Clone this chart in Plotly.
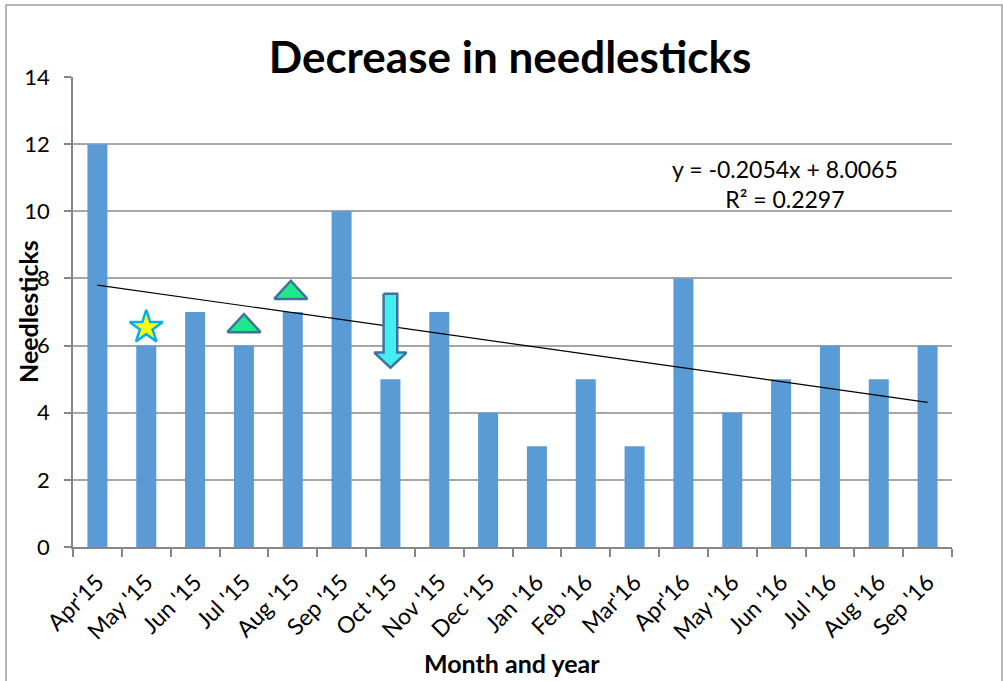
import numpy as np
import plotly.graph_objects as go

months = ["Apr'15", "May '15", "Jun '15", "Jul '15", "Aug '15", "Sep '15", "Oct '15",
          "Nov '15", "Dec '15", "Jan '16", "Feb '16", "Mar'16", "Apr'16", "May '16",
          "Jun '16", "Jul '16", "Aug '16", "Sep '16"]
needlesticks = [12, 6, 7, 6, 7, 10, 5, 7, 4, 3, 5, 3, 8, 4, 5, 6, 5, 6]

# decorative markers (category index 1-based, value level)
star_pos = (2, 6.54)
triangles = [(4, 6.40), (4.96, 7.39)]   # (center x, base y)
arrow_x = 7
arrow_top, arrow_head, arrow_tip = 7.54, 5.79, 5.34

x = np.arange(1, len(months) + 1)
y = np.array(needlesticks, dtype=float)
slope, intercept = np.polyfit(x, y, 1)
pred = slope * x + intercept
r2 = 1 - np.sum((y - pred) ** 2) / np.sum((y - y.mean()) ** 2)

FONT = "Lato"
fig = go.Figure()
fig.add_trace(go.Bar(x=x, y=needlesticks, marker_color="#5b9bd5", width=0.41,
                     marker_line_width=0))
fig.add_trace(go.Scatter(x=[x[0], x[-1]], y=[pred[0], pred[-1]], mode="lines",
                         line=dict(color="black", width=1.2)))

# star
fig.add_trace(go.Scatter(x=[star_pos[0]], y=[star_pos[1]], mode="markers",
                         marker=dict(symbol="star", size=25, color="#ffff00",
                                     line=dict(color="#00b0f0", width=2.5))))
# triangles
for cx, by in triangles:
    hw, h = 0.34, 0.54
    fig.add_trace(go.Scatter(x=[cx - hw, cx + hw, cx, cx - hw], y=[by, by, by + h, by],
                             mode="lines", fill="toself", fillcolor="#1ee88a",
                             line=dict(color="#41719c", width=2.5)))
# arrow
sw, hw = 0.14, 0.33
ax = [arrow_x - sw, arrow_x + sw, arrow_x + sw, arrow_x + hw, arrow_x, arrow_x - hw,
      arrow_x - sw, arrow_x - sw]
ay = [arrow_top, arrow_top, arrow_head, arrow_head, arrow_tip, arrow_head, arrow_head,
      arrow_top]
fig.add_trace(go.Scatter(x=ax, y=ay, mode="lines", fill="toself", fillcolor="#40f0f0",
                         line=dict(color="#41719c", width=2.5)))

fig.add_annotation(x=0.81, y=0.772, xref="paper", yref="paper",
                   xanchor="center", yanchor="middle",
                   text=f"y = {slope:.4f}x + {intercept:.4f}<br>R² = {r2:.4f}",
                   showarrow=False, align="center",
                   font=dict(family=FONT, size=23, color="black"))

# axis titles
fig.add_annotation(x=(512 - 73) / 879, y=(547 - 663) / 470, xref="paper", yref="paper",
                   xanchor="center", yanchor="middle", showarrow=False,
                   text="<b>Month and year</b>", font=dict(family=FONT, size=25, color="black"))
fig.add_annotation(x=(28 - 73) / 879, y=(547 - 312) / 470, xref="paper", yref="paper",
                   xanchor="center", yanchor="middle", showarrow=False, textangle=-90,
                   text="<b>Needlesticks</b>", font=dict(family=FONT, size=25, color="black"))

# outer frame
fig.add_shape(type="rect", xref="paper", yref="paper", x0=-0.0762, x1=1.0569,
              y0=-0.31, y1=1.153, line=dict(color="#a0a0a0", width=1.5))

fig.update_layout(
    width=1003, height=681,
    margin=dict(l=73, r=51, t=77, b=134),
    paper_bgcolor="white", plot_bgcolor="white",
    showlegend=False,
    title=dict(text="<b>Decrease in needlesticks</b>", x=0.5085, xanchor="center",
               y=0.916, yanchor="middle",
               font=dict(family=FONT, size=44, color="black")),
    font=dict(family=FONT, color="black"),
    xaxis=dict(range=[0.5, 18.5], tickvals=x, ticktext=months, tickangle=-45,
               tickfont=dict(size=23), ticks="", showgrid=False, ticklabelstandoff=11,
               showline=True, linecolor="#868686", linewidth=1.5,
               minor=dict(tick0=0.5, dtick=1, ticks="outside", ticklen=8,
                          tickcolor="#868686", tickwidth=1.5, showgrid=False)),
    yaxis=dict(range=[0, 14], dtick=2, tickfont=dict(size=22), ticks="outside",
               ticklen=7, tickcolor="#868686", tickwidth=1.5, ticklabelstandoff=10,
               showgrid=True, gridcolor="#a6a6a6", gridwidth=1.5,
               showline=True, linecolor="#868686", linewidth=1.5, zeroline=False),
)
fig.write_html("out.html", post_script="document.body.style.margin='0';",
               config={"displayModeBar": False})
